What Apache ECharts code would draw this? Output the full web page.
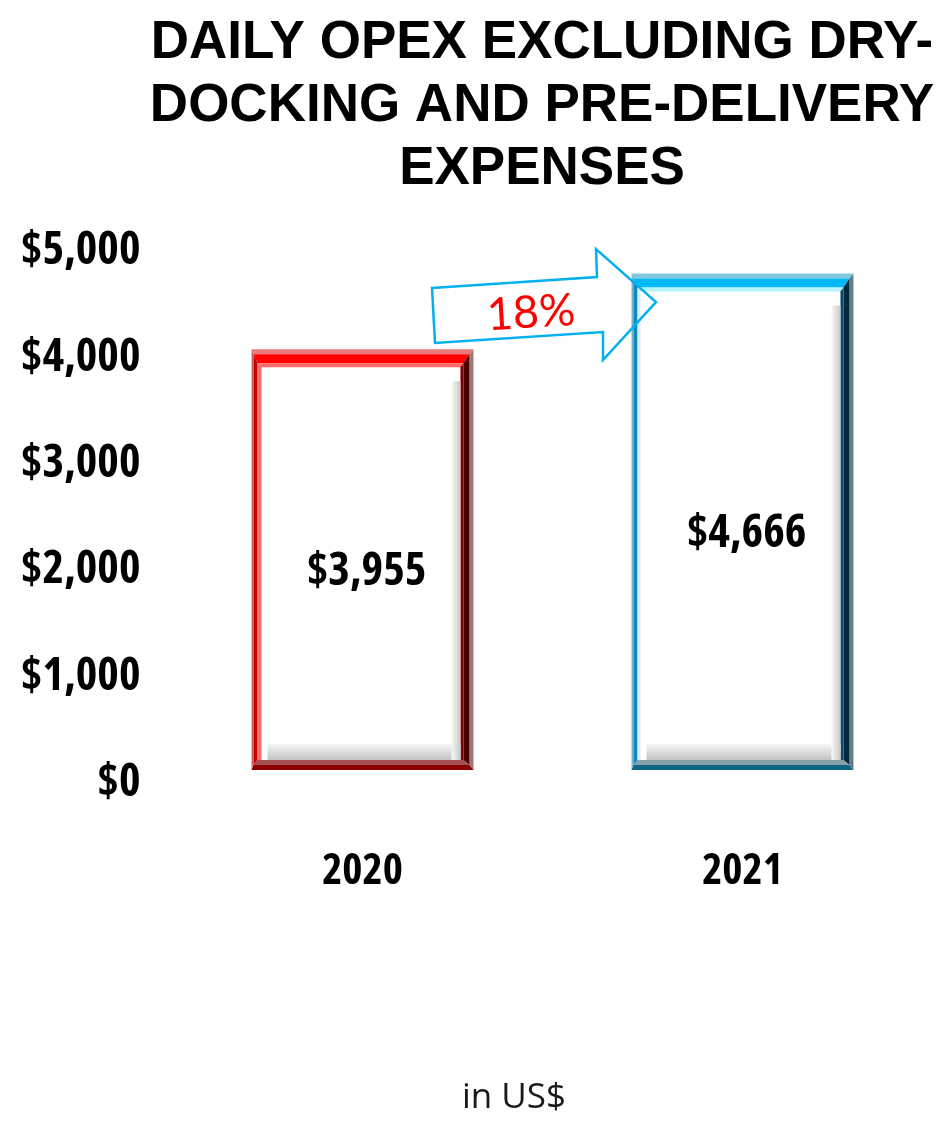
<!DOCTYPE html>
<html>
<head>
<meta charset="utf-8">
<script src="https://cdn.jsdelivr.net/npm/echarts@6/dist/echarts.min.js"></script>
<style>
html,body{margin:0;padding:0;background:#fff;}
#chart{width:941px;height:1122px;}
</style>
</head>
<body>
<div id="chart"></div>
<script>
// ---- data ----
const categories = ['2020', '2021'];
const opexValues = [3955, 4666];
const valueLabels = ['$3,955', '$4,666'];
const yTickLabels = ['$0', '$1,000', '$2,000', '$3,000', '$4,000', '$5,000'];
const changeLabel = '18%';
const titleLines = ['DAILY OPEX EXCLUDING DRY-', 'DOCKING AND PRE-DELIVERY', 'EXPENSES'];
const footnote = 'in US$';

// ---- styles ----
const COND_FAMILY = "'Open Sans', 'Roboto Condensed', sans-serif";
const COND_WEIGHT = 'bold condensed';
const PALETTES = [
  { rings: [
      { th: [5, 4, 5, 2], c: ['#e87a7a', '#a07878', '#8c0000', '#d06060'] },
      { th: [9, 6, 5, 4], c: ['#ff0000', '#4a0000', '#a45050', '#c40000'] },
      { th: [4, 3, 0, 4], c: ['#ff6868', '#7a0000', '#a45050', '#f07070'] }
    ] },
  { rings: [
      { th: [5, 4, 5, 2], c: ['#80c8e0', '#687c88', '#0f6585', '#70b0c8'] },
      { th: [9, 6, 5, 4], c: ['#00b8f4', '#002a40', '#88a0a8', '#1088bc'] },
      { th: [4, 3, 0, 3], c: ['#b4f4ff', '#0a4a68', '#88a0a8', '#d8eef8'] }
    ] }
];

function frame(xa, ya, xb, yb, th, cols, out) {
  const t = th[0], r = th[1], b = th[2], l = th[3];
  if (t > 0) out.push({ type: 'polygon', shape: { points: [[xa, ya], [xb, ya], [xb - r, ya + t], [xa + l, ya + t]] }, style: { fill: cols[0] } });
  if (r > 0) out.push({ type: 'polygon', shape: { points: [[xb, ya], [xb, yb], [xb - r, yb - b], [xb - r, ya + t]] }, style: { fill: cols[1] } });
  if (b > 0) out.push({ type: 'polygon', shape: { points: [[xa, yb], [xb, yb], [xb - r, yb - b], [xa + l, yb - b]] }, style: { fill: cols[2] } });
  if (l > 0) out.push({ type: 'polygon', shape: { points: [[xa, ya], [xa + l, ya + t], [xa + l, yb - b], [xa, yb]] }, style: { fill: cols[3] } });
  return [xa + l, ya + t, xb - r, yb - b];
}

function renderItem(params, api) {
  const idx = api.value(0);
  const val = api.value(1);
  const top = api.coord([idx, val]);
  const base = api.coord([idx, 0]);
  const bw = api.size([1, 0])[0] * 0.584;
  let box = [top[0] - bw / 2, top[1], top[0] + bw / 2, base[1]];
  const children = [];
  children.push({ type: 'rect', shape: { x: box[0], y: box[1], width: box[2] - box[0], height: box[3] - box[1] }, style: { fill: '#ffffff' } });
  const pal = PALETTES[params.dataIndex];
  pal.rings.forEach(function (ring) {
    box = frame(box[0], box[1], box[2], box[3], ring.th, ring.c, children);
  });
  const iw = box[2] - box[0];
  children.push({ type: 'rect', shape: { x: box[0] + 6, y: box[3] - 16, width: iw - 6, height: 16 },
    style: { fill: new echarts.graphic.LinearGradient(0, 0, 0, 1, [{ offset: 0, color: '#f6f6f6' }, { offset: 1, color: '#c2c2c2' }]) } });
  children.push({ type: 'rect', shape: { x: box[2] - 9, y: box[1] + 14, width: 9, height: box[3] - box[1] - 14 },
    style: { fill: new echarts.graphic.LinearGradient(0, 0, 1, 0, [{ offset: 0, color: '#f8f8f8' }, { offset: 1, color: '#c8c8c8' }]) } });
  children.push({ type: 'text', x: top[0] + 4, y: (top[1] + base[1]) / 2 + 12,
    style: { text: valueLabels[params.dataIndex], fill: '#000', align: 'center', verticalAlign: 'middle',
      fontSize: 46, fontWeight: COND_WEIGHT, fontFamily: COND_FAMILY } });
  return { type: 'group', children: children };
}

const chart = echarts.init(document.getElementById('chart'), null, { renderer: 'canvas' });
const option = {
  animation: false,
  backgroundColor: '#ffffff',
  title: {
    text: titleLines.join('\n'),
    left: 537, top: 7, textAlign: 'center',
    textStyle: { fontFamily: "'Liberation Sans', Arial, sans-serif", fontWeight: 'bold', fontSize: 53, lineHeight: 63, color: '#000' }
  },
  grid: { left: 172.5, right: 8.5, top: 238, bottom: 352, containLabel: false, outerBoundsMode: 'none' },
  xAxis: {
    type: 'category', data: categories,
    axisLine: { show: false }, axisTick: { show: false },
    axisLabel: { margin: 80, fontSize: 43, fontWeight: COND_WEIGHT, fontFamily: COND_FAMILY, color: '#000' }
  },
  yAxis: {
    type: 'value', min: 0, max: 5000, interval: 1000,
    splitLine: { show: false }, axisLine: { show: false }, axisTick: { show: false },
    axisLabel: {
      margin: 32, fontSize: 46, fontWeight: COND_WEIGHT, fontFamily: COND_FAMILY, color: '#000',
      verticalAlign: 'top', lineHeight: 26,
      formatter: function (v) { return yTickLabels[Math.round(v / 1000)]; }
    }
  },
  series: [{
    type: 'custom',
    renderItem: renderItem,
    data: categories.map(function (c, i) { return [i, opexValues[i]]; }),
    encode: { x: 0, y: 1 }
  }],
  graphic: [
    { type: 'polygon', z: 100,
      shape: { points: [[432, 288], [597, 277], [596, 249], [656, 302], [603, 360], [603, 332], [435, 343]] },
      style: { fill: 'none', stroke: '#00b0f0', lineWidth: 2.5, lineJoin: 'miter' } },
    { type: 'text', z: 101, x: 531, y: 313, rotation: 0.06,
      style: { text: changeLabel, fill: '#ff0000', align: 'center', verticalAlign: 'middle', fontSize: 45, fontFamily: "Lato, 'Open Sans', sans-serif" } },
    { type: 'text', z: 101, x: 514, y: 1098,
      style: { text: footnote, fill: '#1a1a1a', align: 'center', verticalAlign: 'middle', fontSize: 35, fontFamily: "'Open Sans', 'Noto Sans', sans-serif" } }
  ]
};
chart.setOption(option);
</script>
</body>
</html>
